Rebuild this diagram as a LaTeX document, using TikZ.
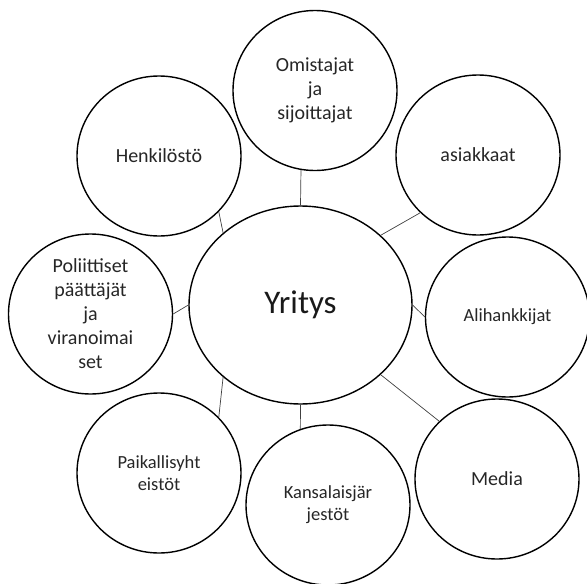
\documentclass[tikz,border=0pt]{standalone}
\usepackage{fontspec}
\setmainfont{Carlito}
\usetikzlibrary{shapes.geometric}

\begin{document}
\begin{tikzpicture}[
    x=1pt, y=-1pt,
    party/.style={ellipse, draw, line width=1.4pt, minimum width=164pt, minimum height=160pt, inner sep=0pt, align=center, text=black!85, font=\fontsize{20}{24}\selectfont},
    small/.style={font=\fontsize{18.5}{22}\selectfont},
    core/.style={ellipse, draw, line width=1.4pt, minimum width=223pt, minimum height=198pt, inner sep=0pt, text=black!90, font=\fontsize{33}{40}\selectfont},
    link/.style={draw=black!75, line width=0.7pt}
]
    \useasboundingbox (0,0) rectangle (587,584);

    \node[core] (firm) at (300.5,305) {Yritys};
    \node[party] (owners) at (315,90.5) {Omistajat\\ja\\sijoittajat};
    \node[party] (customers) at (478,155) {asiakkaat};
    \node[party] (staff) at (159,156) {Henkilöstö};
    \node[party] (politics) at (90.5,314) {Poliittiset\\päättäjät\\ja\\viranoimai\\set};
    \node[party, small] (subcon) at (507.5,317) {Alihankkijat};
    \node[party, small] (local) at (159,473) {Paikallisyht\\eistöt};
    \node[party, small] (ngo) at (328,505) {Kansalaisjär\\jestöt};
    \node[party] (media) at (497,479) {Media};

    \draw[link] (firm.north) -- (owners.-100.4);
    \draw[link] (firm.41) -- (customers.-135);
    \draw[link] (firm.137.5) -- (staff.-43.5);
    \draw[link] (firm.west) -- (politics.east);
    \draw[link] (firm.east) -- (subcon.west);
    \draw[link] (firm.-41.4) -- (media.135.5);
    \draw[link] (firm.south) -- (ngo.110);
    \draw[link] (firm.-137.5) -- (local.43.5);
\end{tikzpicture}
\end{document}
